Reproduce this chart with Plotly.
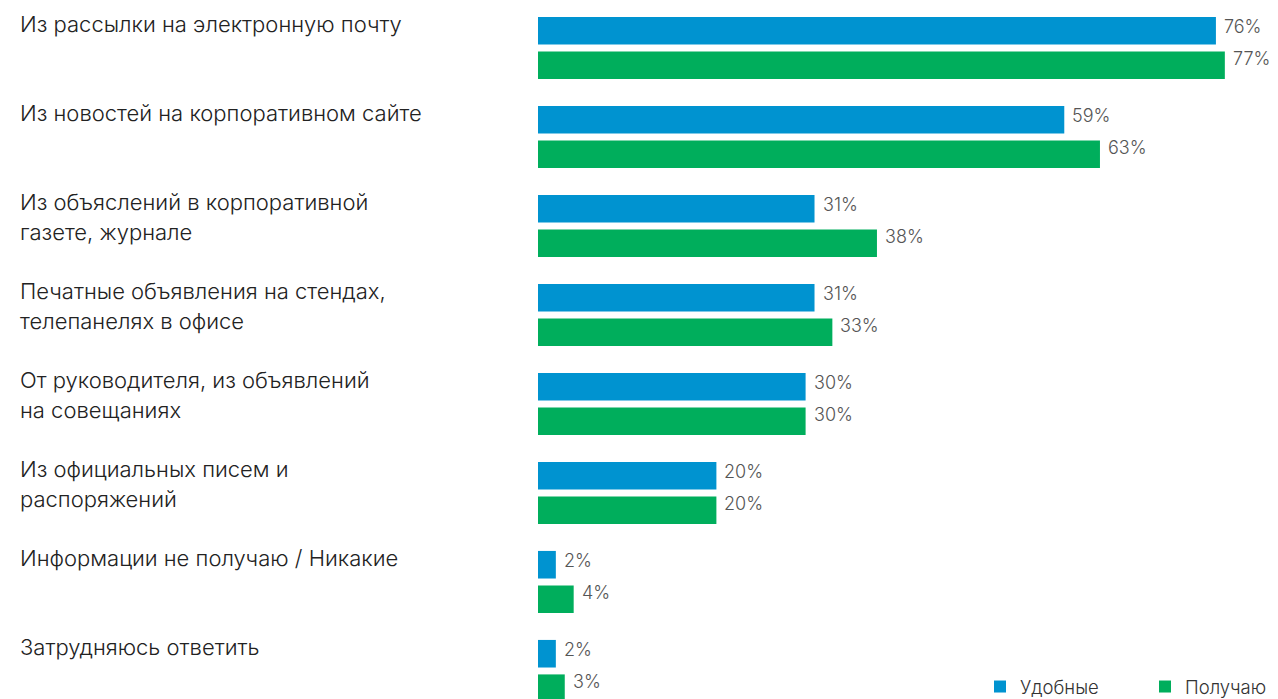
import plotly.graph_objects as go

# Survey: where employees get corporate news (share of respondents, %)
categories = [
    "Из рассылки на электронную почту",
    "Из новостей на корпоративном сайте",
    "Из объяслений в корпоративной<br>газете, журнале",
    "Печатные объявления на стендах,<br>телепанелях в офисе",
    "От руководителя, из объявлений<br>на совещаниях",
    "Из официальных писем и<br>распоряжений",
    "Информации не получаю / Никакие",
    "Затрудняюсь ответить",
]
convenient = [76, 59, 31, 31, 30, 20, 2, 2]
received = [77, 63, 38, 33, 30, 20, 4, 3]
series_names = ["Удобные", "Получаю"]

BLUE = "#0093D0"
GREEN = "#00AE5C"
FONT = "Inter, Liberation Sans, Arial, sans-serif"

W, H = 1278, 699
LEFT = 538
LINE_GAP = 30  # px between lines of a wrapped category label

fig = go.Figure()
fig.add_trace(go.Bar(y=categories, x=convenient, orientation="h",
                     name=series_names[0], marker=dict(color=BLUE, line=dict(width=0))))
fig.add_trace(go.Bar(y=categories, x=received, orientation="h",
                     name=series_names[1], marker=dict(color=GREEN, line=dict(width=0))))

annotations = []
for cat, b, g in zip(categories, convenient, received):
    for k, line in enumerate(cat.split("<br>")):
        annotations.append(dict(
            x=-(LEFT - 20) / (W - LEFT), xref="paper", y=cat, yref="y",
            text=line, showarrow=False, xanchor="left", yanchor="top", align="left",
            borderpad=0, borderwidth=0, yshift=37 - k * LINE_GAP,
            font=dict(family=FONT, size=22, color="#222222", weight=300)))
    annotations.append(dict(
        x=b, xref="x", y=cat, yref="y", text=f"{b}%", showarrow=False,
        xanchor="left", yanchor="middle", xshift=8, yshift=21,
        borderpad=0, borderwidth=0,
        font=dict(family=FONT, size=18, color="#555555", weight=300)))
    annotations.append(dict(
        x=g, xref="x", y=cat, yref="y", text=f"{g}%", showarrow=False,
        xanchor="left", yanchor="middle", xshift=8, yshift=-11,
        borderpad=0, borderwidth=0,
        font=dict(family=FONT, size=18, color="#555555", weight=300)))

fig.update_layout(
    width=W, height=H,
    margin=dict(l=LEFT, r=0, t=0, b=0, autoexpand=False),
    paper_bgcolor="white", plot_bgcolor="white",
    barmode="group", bargap=0.225, bargroupgap=0.2,
    xaxis=dict(range=[0, (W - LEFT) / 8.92], visible=False, fixedrange=True),
    yaxis=dict(type="category", range=[7.315, -0.539], visible=False, fixedrange=True),
    annotations=annotations,
    showlegend=True,
    legend=dict(orientation="h", x=1 + 32 / (W - LEFT), xanchor="right",
                y=-0.01, yanchor="bottom",
                entrywidth=120, entrywidthmode="pixels",
                font=dict(family=FONT, size=18.5, color="#333333", weight=300),
                bgcolor="rgba(0,0,0,0)", traceorder="normal"),
)

fig.write_html("out.html", include_plotlyjs=True)
